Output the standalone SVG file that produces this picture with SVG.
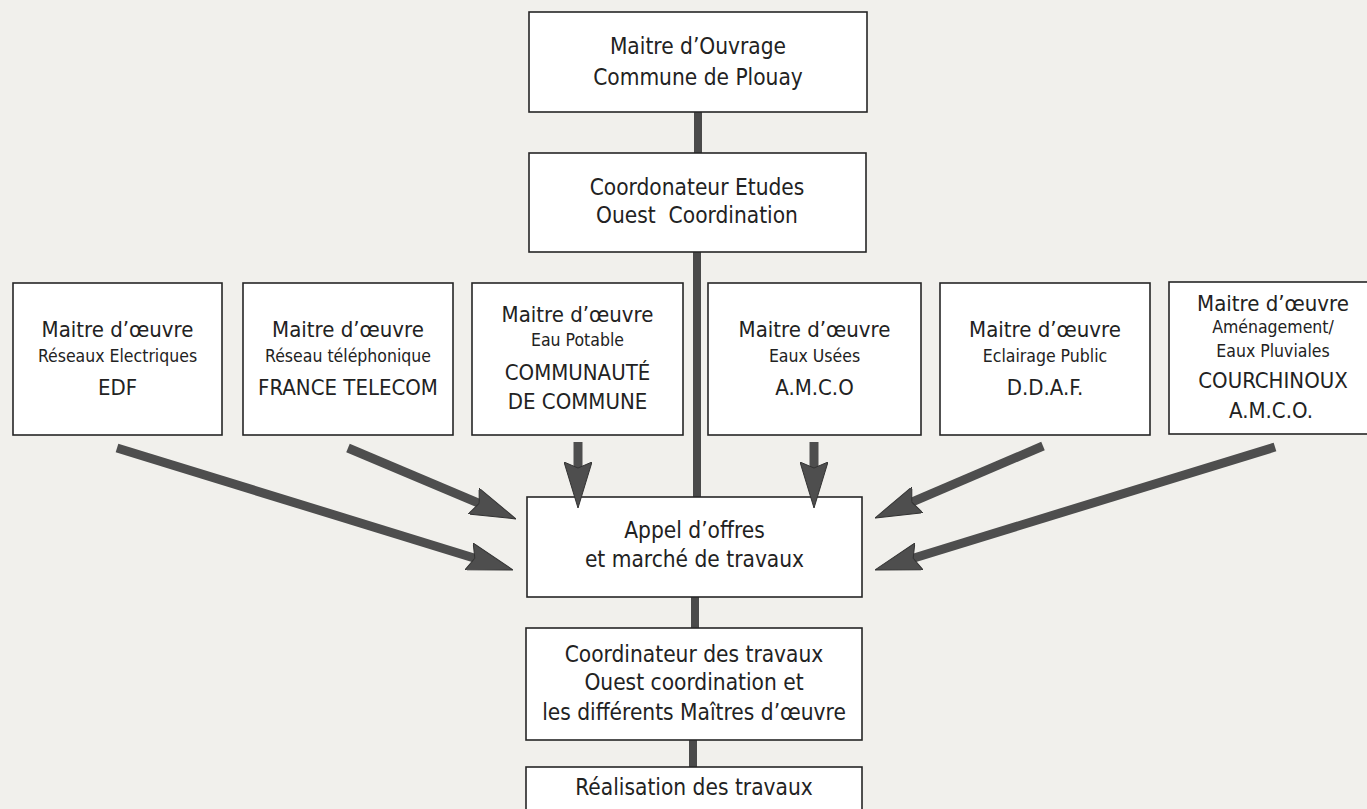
<svg xmlns="http://www.w3.org/2000/svg" width="1367" height="809" viewBox="0 0 1367 809">
<style>
.bg{fill:#f1f0ec}
.box{fill:#ffffff;stroke:#262626;stroke-width:1.6}
text{font-family:"DejaVu Sans Condensed","DejaVu Sans",sans-serif;font-stretch:condensed;fill:#222;text-anchor:middle}
.t{font-size:22px}
.tc{font-size:22.5px}
.s{font-size:17.5px}
.link{stroke:#4a4a4a;stroke-width:8;fill:none}
.arr{stroke:#4e4e4e;stroke-width:9;fill:none;marker-end:url(#head)}
</style>
<defs>
<marker id="head" markerUnits="userSpaceOnUse" viewBox="0 0 46 28" markerWidth="46" markerHeight="28" refX="6" refY="14" orient="auto">
<path d="M0,0 L46,14 L0,28 L6,14 Z" fill="#4e4e4e" stroke="#333" stroke-width="1"/>
</marker>
</defs>
<rect class="bg" x="0" y="0" width="1367" height="809"/>

<g id="connectors">
<line class="link" x1="698" y1="112" x2="698" y2="153"/>
<line class="link" x1="697" y1="252" x2="697" y2="497"/>
<line class="link" x1="695" y1="597" x2="695" y2="628"/>
<line class="link" x1="693" y1="740" x2="693" y2="767"/>
</g>

<g id="maitre-ouvrage">
<rect class="box" x="529" y="12" width="338" height="100"/>
<text class="tc" x="698" y="54">Maitre d’Ouvrage</text>
<text class="tc" x="698" y="85">Commune de Plouay</text>
</g>

<g id="coordonateur-etudes">
<rect class="box" x="529" y="153" width="337" height="99"/>
<text class="tc" x="697" y="195">Coordonateur Etudes</text>
<text class="tc" x="697" y="223" xml:space="preserve">Ouest  Coordination</text>
</g>

<g id="moe-edf">
<rect class="box" x="13" y="283" width="209" height="152"/>
<text class="t" x="117.5" y="337">Maitre d’œuvre</text>
<text class="s" x="117.5" y="362">Réseaux Electriques</text>
<text class="t" x="117.5" y="395">EDF</text>
</g>

<g id="moe-ft">
<rect class="box" x="243" y="283" width="210" height="152"/>
<text class="t" x="348" y="337">Maitre d’œuvre</text>
<text class="s" x="348" y="362">Réseau téléphonique</text>
<text class="t" x="348" y="395">FRANCE TELECOM</text>
</g>

<g id="moe-eau-potable">
<rect class="box" x="472" y="283" width="211" height="152"/>
<text class="t" x="577.5" y="322">Maitre d’œuvre</text>
<text class="s" x="577.5" y="346">Eau Potable</text>
<text class="t" x="577.5" y="380">COMMUNAUTÉ</text>
<text class="t" x="577.5" y="409">DE COMMUNE</text>
</g>

<g id="moe-eaux-usees">
<rect class="box" x="708" y="283" width="213" height="152"/>
<text class="t" x="814.5" y="337">Maitre d’œuvre</text>
<text class="s" x="814.5" y="362">Eaux Usées</text>
<text class="t" x="814.5" y="395">A.M.C.O</text>
</g>

<g id="moe-eclairage">
<rect class="box" x="940" y="283" width="210" height="152"/>
<text class="t" x="1045" y="337">Maitre d’œuvre</text>
<text class="s" x="1045" y="362">Eclairage Public</text>
<text class="t" x="1045" y="395">D.D.A.F.</text>
</g>

<g id="moe-amenagement">
<rect class="box" x="1169" y="282" width="220" height="152"/>
<text class="t" x="1273" y="311">Maitre d’œuvre</text>
<text class="s" x="1273" y="333">Aménagement/</text>
<text class="s" x="1273" y="357">Eaux Pluviales</text>
<text class="t" x="1273" y="388">COURCHINOUX</text>
<text class="t" x="1271" y="418">A.M.C.O.</text>
</g>

<g id="appel-offres">
<rect class="box" x="527" y="497" width="335" height="100"/>
<text class="tc" x="694.5" y="538">Appel d’offres</text>
<text class="tc" x="694.5" y="567">et marché de travaux</text>
</g>

<g id="coordinateur-travaux">
<rect class="box" x="526" y="628" width="336" height="112"/>
<text class="tc" x="694" y="662">Coordinateur des travaux</text>
<text class="tc" x="694" y="690">Ouest coordination et</text>
<text class="tc" x="694" y="720">les différents Maîtres d’œuvre</text>
</g>

<g id="realisation">
<rect class="box" x="526" y="767" width="336" height="70"/>
<text class="tc" x="694" y="795">Réalisation des travaux</text>
</g>

<g id="arrows">
<line class="arr" x1="117" y1="448" x2="474.8" y2="558.2"/>
<line class="arr" x1="348" y1="448" x2="479.2" y2="503.4"/>
<line class="arr" x1="578" y1="442" x2="578" y2="468"/>
<line class="arr" x1="814" y1="442" x2="814" y2="468"/>
<line class="arr" x1="1043" y1="446" x2="911.8" y2="502.2"/>
<line class="arr" x1="1275" y1="447" x2="913.2" y2="558.2"/>
</g>
</svg>
